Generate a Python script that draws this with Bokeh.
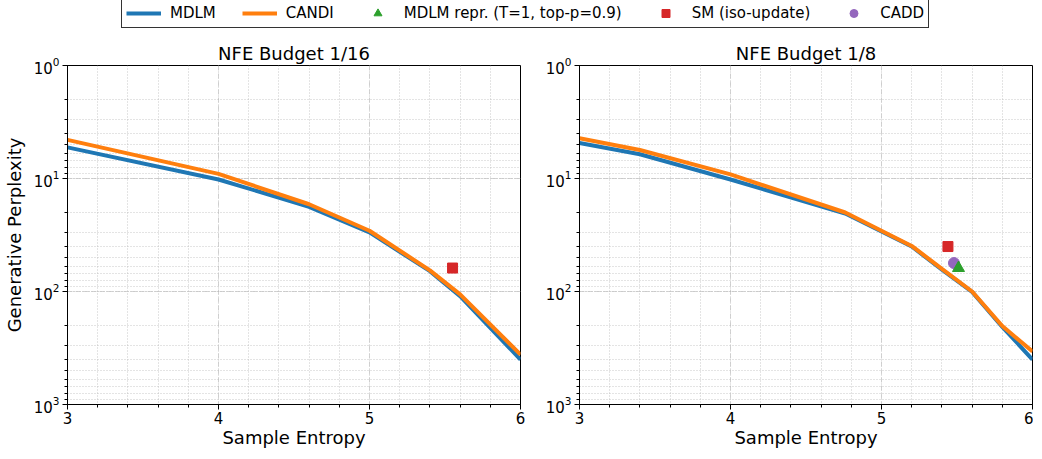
from bokeh.plotting import figure
from bokeh.layouts import column, row
from bokeh.models import Range1d, Legend, LegendItem, SingleIntervalTicker, LogTicker
from bokeh.embed import file_html
from bokeh.resources import INLINE

# ---------------- data ----------------
ent16 = [3.0, 4.0, 4.6, 5.0, 5.4, 5.6, 6.0]
mdlm16 = [5.3, 10.2, 17.8, 30.0, 66.0, 110.0, 400.0]
candi16 = [4.55, 9.1, 16.9, 29.0, 65.0, 106.0, 362.0]
sm16_x = [5.55]
sm16_y = [62.0]

ent8 = [3.0, 3.4, 4.0, 4.76, 5.2, 5.4, 5.6, 5.8, 6.0]
mdlm8 = [4.86, 6.1, 10.2, 20.4, 40.0, 64.0, 100.7, 206.0, 400.0]
candi8 = [4.4, 5.6, 9.2, 20.0, 39.5, 63.0, 100.0, 202.0, 340.0]
repr8_x = [5.51]
repr8_y = [62.0]
sm8_x = [5.44]
sm8_y = [40.0]
cadd8_x = [5.48]
cadd8_y = [56.0]

titles = ["NFE Budget 1/16", "NFE Budget 1/8"]
labels = ["MDLM", "CANDI", "MDLM repr. (T=1, top-p=0.9)", "SM (iso-update)", "CADD"]

BLUE = "#1f77b4"
ORANGE = "#ff7f0e"
GREEN = "#2ca02c"
RED = "#d62728"
PURPLE = "#9467bd"
FONT = "DejaVu Sans"


def make_panel(title, border_left, border_right, ylabel):
    p = figure(frame_width=453, frame_height=339, x_range=Range1d(3, 6), y_range=Range1d(1000, 1),
               y_axis_type="log", toolbar_location=None, output_backend="svg",
               min_border_left=border_left, min_border_right=border_right,
               min_border_top=20, min_border_bottom=46)
    p.title.text = title
    p.title.align = "center"
    p.title.text_font = FONT
    p.title.text_font_size = "18px"
    p.title.text_font_style = "normal"
    p.title.text_color = "black"
    p.title.standoff = 4
    p.outline_line_color = "black"
    p.outline_line_alpha = 1.0
    p.xaxis.ticker = SingleIntervalTicker(interval=1, num_minor_ticks=5)
    p.yaxis.ticker = LogTicker(num_minor_ticks=10)
    for ax in (p.xaxis[0], p.yaxis[0]):
        ax.axis_line_color = "black"
        ax.major_tick_line_color = "black"
        ax.minor_tick_line_color = "black"
        ax.major_tick_out = 5
        ax.major_tick_in = 0
        ax.minor_tick_out = 3
        ax.minor_tick_in = 0
        ax.major_label_text_font = FONT
        ax.major_label_text_font_size = "15px"
        ax.major_label_text_color = "black"
        ax.axis_label_text_font = FONT
        ax.axis_label_text_font_size = "18px"
        ax.axis_label_text_font_style = "normal"
        ax.axis_label_text_color = "black"
    p.xaxis.major_label_standoff = 2
    p.xaxis.axis_label_standoff = 0
    p.yaxis.major_label_standoff = 3
    p.xaxis.axis_label = "Sample Entropy"
    if ylabel:
        p.yaxis.axis_label = ylabel
        p.yaxis.axis_label_standoff = 6
    for g in (p.xgrid[0], p.ygrid[0]):
        g.grid_line_color = "#c8c8c8"
        g.grid_line_alpha = 0.8
        g.grid_line_dash = "5 3"
        g.minor_grid_line_color = "#b0b0b0"
        g.minor_grid_line_alpha = 0.7
        g.minor_grid_line_dash = "1 2"
    return p


p1 = make_panel(titles[0], 60, 19, "Generative Perplexity")
p1.line(ent16, mdlm16, line_color=BLUE, line_width=4)
p1.line(ent16, candi16, line_color=ORANGE, line_width=4)
p1.scatter(sm16_x, sm16_y, marker="square", size=10, fill_color=RED, line_color=RED)

p2 = make_panel(titles[1], 40, 1, None)
p2.line(ent8, mdlm8, line_color=BLUE, line_width=4)
p2.line(ent8, candi8, line_color=ORANGE, line_width=4)
p2.scatter(sm8_x, sm8_y, marker="square", size=10, fill_color=RED, line_color=RED)
p2.scatter(cadd8_x, cadd8_y, marker="circle", size=11, fill_color=PURPLE, line_color=PURPLE)
p2.scatter(repr8_x, repr8_y, marker="triangle", size=12, fill_color=GREEN, line_color=GREEN)

# legend strip (renderers hold points outside the visible range)
p0 = figure(width=1026, height=38, x_range=Range1d(0, 1), y_range=Range1d(0, 1),
            toolbar_location=None, output_backend="svg", min_border=0)
p0.axis.visible = False
p0.grid.visible = False
p0.outline_line_color = None
r1 = p0.line([-10, -9], [-10, -9], line_color=BLUE, line_width=4)
r2 = p0.line([-10, -9], [-10, -9], line_color=ORANGE, line_width=4)
r3 = p0.scatter([-10], [-10], marker="triangle", size=12, fill_color=GREEN, line_color=GREEN)
r4 = p0.scatter([-10], [-10], marker="square", size=11, fill_color=RED, line_color=RED)
r5 = p0.scatter([-10], [-10], marker="circle", size=11, fill_color=PURPLE, line_color=PURPLE)
legend = Legend(items=[LegendItem(label=labels[i], renderers=[r]) for i, r in enumerate([r1, r2, r3, r4, r5])],
                orientation="horizontal", location=(121, 10), margin=0, padding=4,
                spacing=26, label_standoff=9, glyph_width=35, glyph_height=20, label_height=20,
                label_text_font=FONT, label_text_font_size="15px", label_text_color="black",
                border_line_color="black", border_line_alpha=0.8, border_line_width=1,
                background_fill_alpha=1.0)
p0.add_layout(legend, "center")

layout = column(p0, row(p1, p2))
open("out.html", "w").write(file_html(layout, INLINE))
